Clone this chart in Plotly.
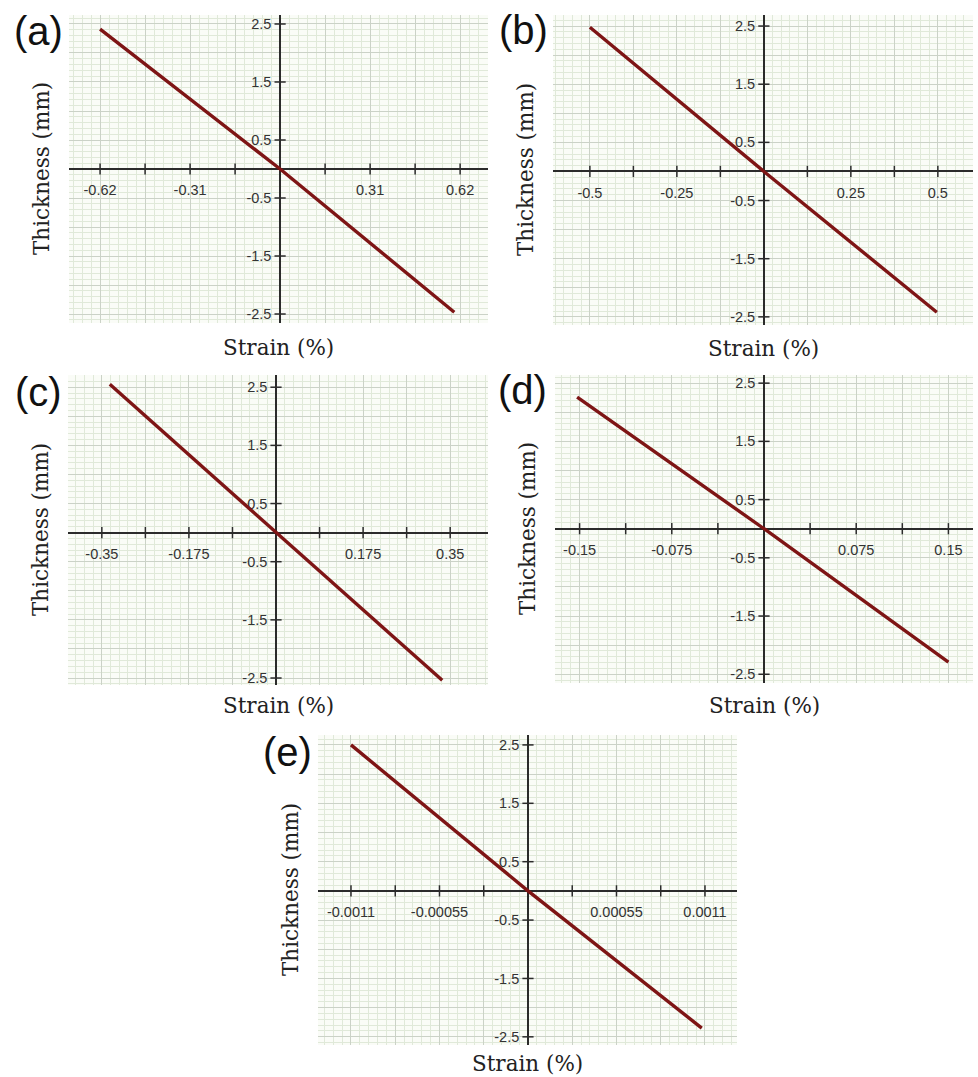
import numpy as np
import plotly.graph_objects as go

W, H = 978, 1077

# ---------------- data ----------------
panel_names = ["(a)", "(b)", "(c)", "(d)", "(e)"]

strain_a = [-0.62, 0.0, 0.60]
thick_a = [2.41, 0.0, -2.47]
strain_b = [-0.50, 0.0, 0.497]
thick_b = [2.48, 0.0, -2.42]
strain_c = [-0.334, 0.0, 0.334]
thick_c = [2.55, 0.0, -2.54]
strain_d = [-0.152, 0.0, 0.150]
thick_d = [2.26, 0.0, -2.29]
strain_e = [-0.0011, 0.0, 0.00108]
thick_e = [2.50, 0.0, -2.35]

xlabels_a = ["-0.62", "-0.31", "0.31", "0.62"]
xlabels_b = ["-0.5", "-0.25", "0.25", "0.5"]
xlabels_c = ["-0.35", "-0.175", "0.175", "0.35"]
xlabels_d = ["-0.15", "-0.075", "0.075", "0.15"]
xlabels_e = ["-0.0011", "-0.00055", "0.00055", "0.0011"]
ylabels = ["2.5", "1.5", "0.5", "-0.5", "-1.5", "-2.5"]

x_title = "Strain (%)"
y_title = "Thickness (mm)"

# ---------------- layout geometry (pixels) ----------------
panels = [
    dict(x=strain_a, y=thick_a, labels=xlabels_a, box=(69, 15, 488, 323),
         xr=(-0.727, 0.716), yr=(-2.655, 2.655), lab=(38, 31), tgap=24),
    dict(x=strain_b, y=thick_b, labels=xlabels_b, box=(553, 15, 973, 325),
         xr=(-0.606, 0.601), yr=(-2.64, 2.69), lab=(523, 30), tgap=24),
    dict(x=strain_c, y=thick_c, labels=xlabels_c, box=(68, 375, 488, 685),
         xr=(-0.418, 0.426), yr=(-2.62, 2.71), lab=(38, 392), tgap=20),
    dict(x=strain_d, y=thick_d, labels=xlabels_d, box=(555, 375, 973, 683),
         xr=(-0.170, 0.170), yr=(-2.65, 2.64), lab=(522, 390), tgap=22),
    dict(x=strain_e, y=thick_e, labels=xlabels_e, box=(318, 735, 737, 1045),
         xr=(-0.001305, 0.001299), yr=(-2.64, 2.67), lab=(287, 752), tgap=18),
]

AXIS_COL = "#2b2b2b"
LINE_COL = "#7e1515"
GRID_MAJ = "#cbd2c7"
GRID_MIN = "#e0e9d9"
BG = "#fafcf7"
TICK_FONT = dict(family="Liberation Sans, Arial, sans-serif", size=14.5, color="#333333")
TITLE_FONT = dict(family="DejaVu Serif, serif", size=21.5, color="#222222")

fig = go.Figure()
annotations = []

for i, p in enumerate(panels):
    n = "" if i == 0 else str(i + 1)
    xa, ya = "x" + n, "y" + n
    x0p, y0p, x1p, y1p = p["box"]
    dx = (x0p / W, x1p / W)
    dy = (1 - y1p / H, 1 - y0p / H)
    xr, yr = p["xr"], p["yr"]

    # labelled tick values parsed from the labels
    lab_vals = [float(s) for s in p["labels"]]
    step = lab_vals[-1] / 4.0          # major grid spacing (half a label step)
    xt = [k * step for k in range(-4, 5)]
    xt_text = []
    for v in xt:
        match = [s for s, lv in zip(p["labels"], lab_vals) if abs(lv - v) < 1e-12]
        xt_text.append(match[0] if match else "")

    yvals = [float(s) for s in ylabels]
    yt = [-2.5, -2.0, -1.5, -1.0, -0.5, 0.5, 1.0, 1.5, 2.0, 2.5]
    yt_text = [s if s in ylabels else "" for s in [f"{v:g}" for v in yt]]

    # positions of the axis lines at data zero
    ypos_of_xaxis = dy[0] + (0 - yr[0]) / (yr[1] - yr[0]) * (dy[1] - dy[0])
    xpos_of_yaxis = dx[0] + (0 - xr[0]) / (xr[1] - xr[0]) * (dx[1] - dx[0])

    fig.update_layout(**{
        ("xaxis" + n): dict(
            domain=list(dx), range=list(xr), anchor="free", position=ypos_of_xaxis,
            tickmode="array", tickvals=xt, ticktext=xt_text,
            showgrid=True, gridcolor=GRID_MAJ, gridwidth=1,
            minor=dict(showgrid=True, gridcolor=GRID_MIN, gridwidth=1,
                       tick0=0, dtick=step / 5),
            showline=True, linecolor=AXIS_COL, linewidth=1.6,
            zeroline=False, ticks="", tickfont=TICK_FONT,
            ticklabelstandoff=8, layer="below traces", fixedrange=True,
        ),
        ("yaxis" + n): dict(
            domain=list(dy), range=list(yr), anchor="free", position=xpos_of_yaxis,
            tickmode="array", tickvals=yt, ticktext=yt_text,
            showgrid=True, gridcolor=GRID_MAJ, gridwidth=1,
            minor=dict(showgrid=True, gridcolor=GRID_MIN, gridwidth=1,
                       tick0=0, dtick=0.1),
            showline=True, linecolor=AXIS_COL, linewidth=1.6,
            zeroline=False, ticks="", tickfont=TICK_FONT,
            ticklabelstandoff=5, layer="below traces", fixedrange=True,
        ),
    })

    # background of the plot area
    fig.add_shape(type="rect", xref=xa + " domain", yref=ya + " domain",
                  x0=0, x1=1, y0=0, y1=1, fillcolor=BG, line=dict(width=0),
                  layer="below")

    # crossing tick marks
    xtick_marks = [v for v in xt if v != 0]
    fig.add_trace(go.Scatter(
        x=xtick_marks, y=[0] * len(xtick_marks), xaxis=xa, yaxis=ya,
        mode="markers", hoverinfo="skip", showlegend=False, cliponaxis=False,
        marker=dict(symbol="line-ns", size=8, line=dict(width=1.5, color=AXIS_COL))))
    fig.add_trace(go.Scatter(
        x=[0] * len(yvals), y=yvals, xaxis=xa, yaxis=ya,
        mode="markers", hoverinfo="skip", showlegend=False, cliponaxis=False,
        marker=dict(symbol="line-ew", size=8, line=dict(width=1.5, color=AXIS_COL))))

    # the data line
    fig.add_trace(go.Scatter(
        x=p["x"], y=p["y"], xaxis=xa, yaxis=ya, mode="lines",
        line=dict(color=LINE_COL, width=3.4), showlegend=False))

    # titles
    annotations.append(dict(
        text=x_title, xref="paper", yref="paper",
        x=(x0p + x1p) / 2 / W, y=1 - (y1p + p["tgap"]) / H,
        showarrow=False, font=TITLE_FONT, xanchor="center", yanchor="middle"))
    annotations.append(dict(
        text=y_title, xref="paper", yref="paper",
        x=(x0p - 28) / W, y=1 - (y0p + y1p) / 2 / H, textangle=-90,
        showarrow=False, font=TITLE_FONT, xanchor="center", yanchor="middle"))
    annotations.append(dict(
        text=panel_names[i], xref="paper", yref="paper",
        x=p["lab"][0] / W, y=1 - p["lab"][1] / H,
        showarrow=False, xanchor="center", yanchor="middle",
        font=dict(family="Liberation Sans, Arial, sans-serif", size=40, color="#111111")))

fig.update_layout(
    width=W, height=H, margin=dict(l=0, r=0, t=0, b=0),
    paper_bgcolor="white", plot_bgcolor="rgba(0,0,0,0)",
    showlegend=False, annotations=annotations,
)

fig.write_html("out.html")
